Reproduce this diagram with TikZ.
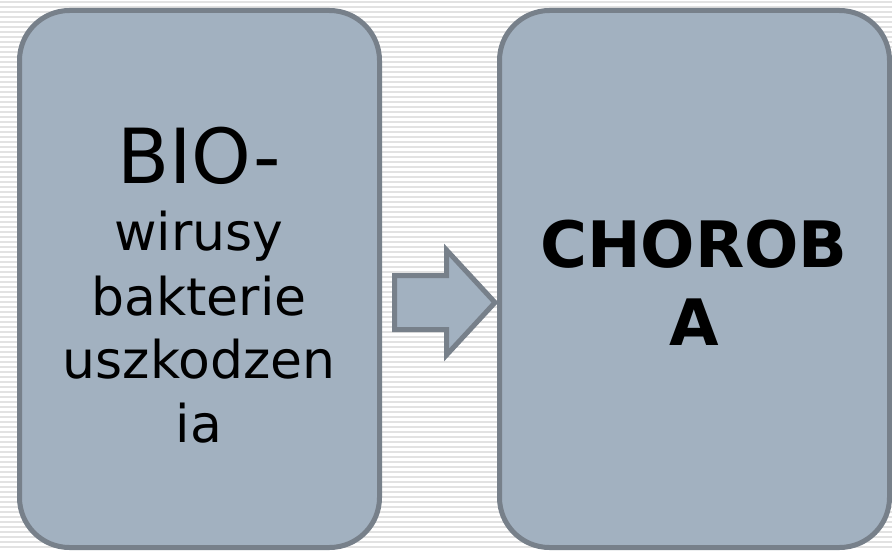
\documentclass[tikz,border=0pt]{standalone}
\usepackage{fontspec}
\setmainfont{DejaVu Sans}
\definecolor{boxfill}{RGB}{162,177,192}
\definecolor{boxline}{RGB}{119,128,138}
\definecolor{stripe}{RGB}{226,226,226}
\tikzset{
  panel/.style={draw=boxline, fill=boxfill, line width=5pt, rounded corners=50pt, inner sep=0pt},
  txt/.style={anchor=base, inner sep=0pt, text=black},
  blockarrow/.style={draw=boxline, fill=boxfill, line width=5pt, line join=miter}
}
\begin{document}
\begin{tikzpicture}[x=1pt,y=-1pt]
\useasboundingbox (0,0) rectangle (892,551);
\fill[white] (0,0) rectangle (892,551);
\foreach \i in {0,...,110} {
  \fill[stripe] (0,{\i*5+1}) rectangle (892,{\i*5+3});
}
\node[panel, minimum width=360pt, minimum height=537pt] (L) at (199.5,279) {};
\node[panel, minimum width=390pt, minimum height=537pt] (R) at (694.5,279) {};
\node[txt, font=\fontsize{76}{90}\selectfont] (t1) at (199,183) {BIO-};
\node[txt, font=\fontsize{52}{63}\selectfont] (t2) at (199,250) {wirusy};
\node[txt, font=\fontsize{52}{63}\selectfont] (t3) at (199,315) {bakterie};
\node[txt, font=\fontsize{52}{63}\selectfont] (t4) at (199,378) {uszkodzen};
\node[txt, font=\fontsize{52}{63}\selectfont] (t5) at (199,442) {ia};
\node[txt, font=\bfseries\fontsize{64}{77}\selectfont] (c1) at (694,267) {CHOROB};
\node[txt, font=\bfseries\fontsize{64}{77}\selectfont] (c2) at (694,345) {A};
\coordinate (a1) at (394.5,275.5);
\coordinate (a2) at (446.5,275.5);
\coordinate (a3) at (446.5,250);
\coordinate (a4) at (495,302.5);
\coordinate (a5) at (446.5,355);
\coordinate (a6) at (446.5,329.5);
\coordinate (a7) at (394.5,329.5);
\draw[blockarrow] (a1) -- (a2) -- (a3) -- (a4) -- (a5) -- (a6) -- (a7) -- cycle;
\end{tikzpicture}
\end{document}
